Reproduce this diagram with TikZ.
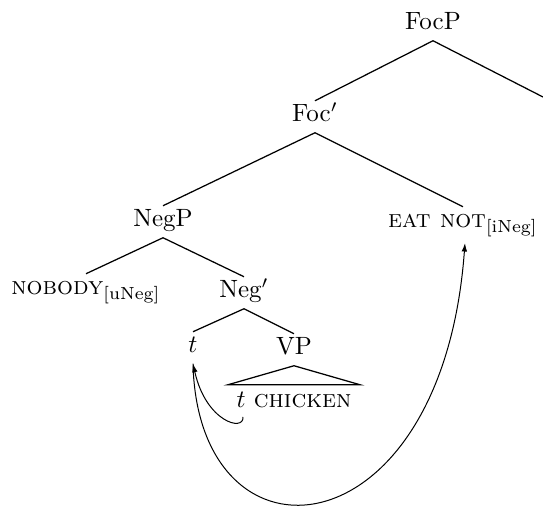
\documentclass[tikz,border=0pt]{standalone}
\usepackage{amsmath}
\usetikzlibrary{arrows.meta,calc}
\begin{document}
\begin{tikzpicture}[x=0.4pt,y=-0.4pt,
  lab/.style={anchor=base,inner sep=2pt,text height=6.3pt,text depth=2.1pt},
  branch/.style={line width=0.5pt},
  mv/.style={line width=0.4pt,-{Latex[length=3.4pt,width=2.2pt]}}]
\useasboundingbox (0,0) rectangle (543,506);
\node[lab] (FocP) at (433,30) {FocP};
\node[lab] (Focb) at (315,122) {Foc$'$};
\node[lab] (NegP) at (163,227) {NegP};
\node[lab] (EN) at (463,228) {\textsc{eat not}$_{\text{[iNeg]}}$};
\node[lab] (NB) at (86,295) {\textsc{nobody}$_{\text{[uNeg]}}$};
\node[lab] (Negb) at (244,298) {Neg$'$};
\node[lab] (t) at (193,353) {$t$};
\node[lab] (VP) at (294,355) {VP};
\node[lab] (tc) at (294,408) {$t$ \textsc{chicken}};
\coordinate (R) at (543,97);
\coordinate (tcT) at (243,417);
\coordinate (NOT) at (465,243);
\coordinate (triL) at ($(tc.north)+(-66,-2)$);
\coordinate (triR) at ($(tc.north)+(66,-2)$);
\draw[branch] (Focb.north) -- (FocP.south) -- (R);
\draw[branch] (NegP.north) -- (Focb.south) -- (EN.north);
\draw[branch] (NB.north) -- (NegP.south) -- (Negb.north);
\draw[branch] (t.north) -- (Negb.south) -- (VP.north);
\draw[branch] (VP.south) -- (triL) -- (triR) -- cycle;
\draw[mv] (tcT) .. controls (244,432) and (206,422) .. (t.south);
\draw[mv] (t.south) .. controls (198,577) and (442,557) .. (NOT);
\end{tikzpicture}
\end{document}
